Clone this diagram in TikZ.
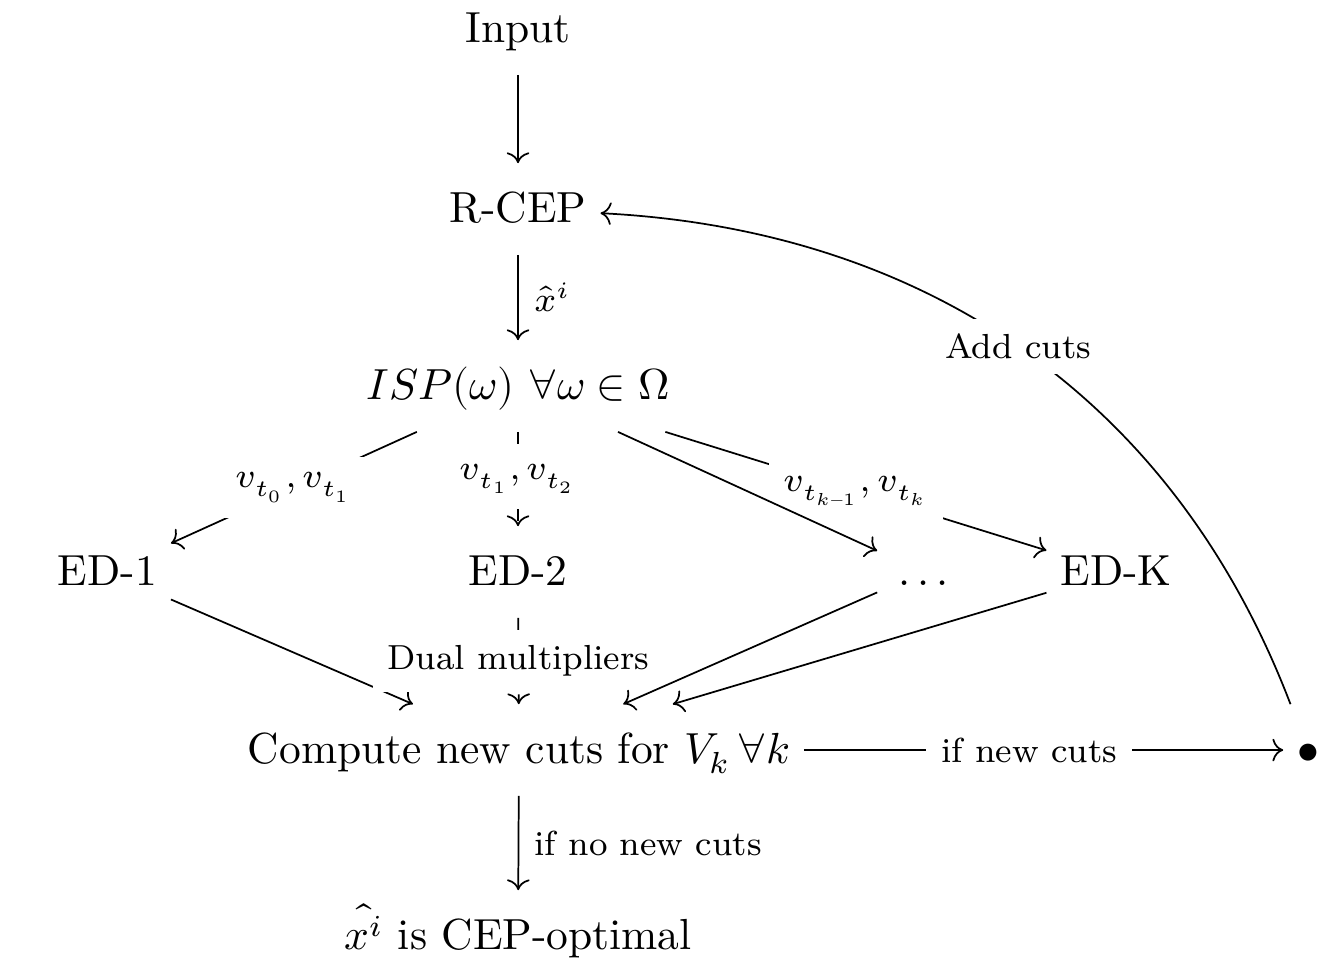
\documentclass[tikz,border=0pt]{standalone}
\usepackage{unicode-math}
\DeclareMathSizes{8}{8}{5.4}{4}
\usetikzlibrary{cd}
\begin{document}
\begin{tikzpicture}[x=0.22989pt,y=-0.22989pt,
  cell/.style={anchor=base, inner xsep=3pt, inner ysep=5.1pt, text height=8.23pt, text depth=2.26pt},
  lab/.style={font=\footnotesize, inner sep=3.5pt},
  desc/.style={fill=white, anchor=center},
  arr/.style={-{cm to}, line width=0.4pt},
  dsh/.style={dash pattern=on 7\pgflinewidth off 4\pgflinewidth}
]
\useasboundingbox (0,0) rectangle (1332,962);
\node[cell] (in) at (518,42) {Input};
\node[cell] (rcep) at (518,222) {R-CEP};
\node[cell] (isp) at (518,399) {$ISP(\omega)$ $\forall\omega\in\Omega$};
\node[cell] (ed1) at (107.5,585) {ED-1};
\node[cell] (ed2) at (518,585) {ED-2};
\node[cell, inner xsep=4.6pt] (dots) at (923.5,585) {.\kern1.67pt.\kern1.67pt.};
\node[cell] (edk) at (1116,585) {ED-K};
\node[cell] (comp) at (519,763) {Compute new cuts for $V_k\,\forall k$};
\node[cell] (bul) at (1308,763) {$\bullet$};
\node[cell] (fin) at (518,949) {$\hat{x^i}$ is CEP-optimal};

\draw[arr] (in) -- (rcep);
\draw[arr] (rcep) -- node[lab,right]{$\hat{x}^i$} (isp);
\draw[arr] (isp) -- node[lab,desc]{$v_{t_0},v_{t_1}$} (ed1);
\draw[arr,dsh] (isp) -- node[lab,desc]{$v_{t_1},v_{t_2}$} (ed2);
\draw[arr] (isp) -- node[lab,desc]{$v_{t_{k-1}},v_{t_k}$} (edk);
\draw[arr] (isp) -- (dots);
\draw[arr] (ed1) -- (comp);
\draw[arr,dsh] (ed2) -- node[lab,desc]{Dual multipliers} (comp);
\draw[arr] (dots) -- (comp);
\draw[arr] (edk) -- (comp);
\draw[arr] (comp) -- node[lab,desc,pos=0.47]{if new cuts} (bul);
\draw[arr] (comp) -- node[lab,right]{if no new cuts} (fin);
\draw[arr] (bul) .. controls (1170,389) and (914.5,229) .. (rcep) node[lab,desc,pos=0.5]{Add cuts};
\end{tikzpicture}
\end{document}
